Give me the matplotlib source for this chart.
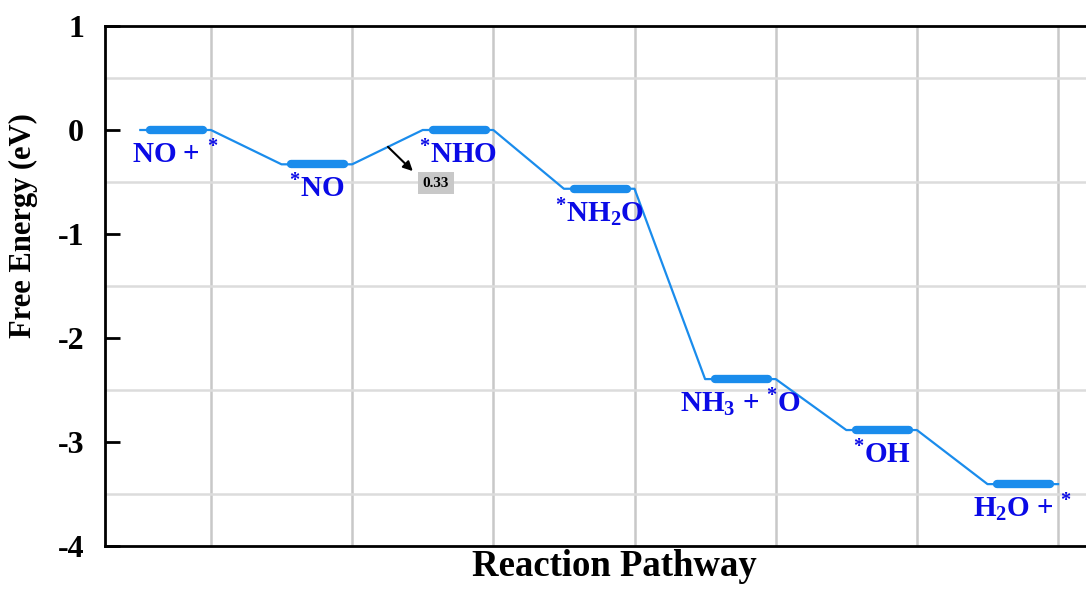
import numpy as np
import matplotlib.pyplot as plt

plt.rcParams['font.family'] = ['Liberation Serif', 'DejaVu Serif']
plt.rcParams['font.weight'] = 'bold'
plt.rcParams['axes.labelweight'] = 'bold'
plt.rcParams['axes.unicode_minus'] = False
plt.rcParams['mathtext.default'] = 'regular'
plt.rcParams['mathtext.fontset'] = 'custom'
plt.rcParams['mathtext.rm'] = 'Liberation Serif'

# intermediates along the pathway and their free energies (eV)
species = [r'NO + $^{\mathrm{*}}$', r'$^{\mathrm{*}}$NO', r'$^{\mathrm{*}}$NHO',
           r'$^{\mathrm{*}}$NH$_2$O', r'NH$_3$ + $^{\mathrm{*}}$O',
           r'$^{\mathrm{*}}$OH', r'H$_2$O + $^{\mathrm{*}}$']
energy = [0.00, -0.33, 0.00, -0.565, -2.395, -2.885, -3.405]
yticks = [1, 0, -1, -2, -3, -4]

line_c = '#1a8cec'
text_c = '#0a0ae6'

step = np.arange(1, len(energy) + 1)
E = np.array(energy)

fig = plt.figure(figsize=(10.86, 5.92), dpi=100)
ax = fig.add_axes([105 / 1086, 46 / 592, 1018 / 1086, 520 / 592])

# thin connecting path: each state is flat between i-0.5 and i
px = np.column_stack([step - 0.5, step]).ravel()
py = np.repeat(E, 2)
ax.plot(px, py, color=line_c, lw=1.6, zorder=3)

# thick level bars
for i, e in zip(step, E):
    ax.plot([i - 0.43, i - 0.055], [e, e], color=line_c, lw=6,
            solid_capstyle='round', zorder=4)

for i, e, s in zip(step, E, species):
    ax.text(i - 0.25, e - 0.32, s, color=text_c, fontsize=21,
            ha='center', va='baseline', zorder=5)

# barrier between *NO and *NHO
barrier = E[2] - E[1]
ax.annotate('', xy=(2.43, -0.395), xytext=(2.254, -0.162),
            arrowprops=dict(arrowstyle='-|>', color='k', lw=1.5,
                            shrinkA=0, shrinkB=0, mutation_scale=14))
ax.text(2.594, -0.51, f'{barrier:.2f}', ha='center', va='center',
        fontsize=11, color='k',
        bbox=dict(boxstyle='square,pad=0.3', fc='#c8c8c8', ec='none'))

ax.set_xlim(0.25, 0.25 + 1018 / 141.2)
ax.set_ylim(-4, 1)
ax.set_xticks(step)
ax.set_yticks(yticks)
ax.set_yticks(np.arange(-3.5, 1, 1.0), minor=True)
ax.tick_params(axis='x', length=0, labelbottom=False)
ax.tick_params(axis='y', which='major', direction='in', length=11, width=2,
               labelsize=23, pad=15)
ax.tick_params(axis='y', which='minor', length=0)
ax.set_axisbelow(True)
ax.grid(axis='x', which='major', color='#c8c8c8', lw=1.8)
ax.grid(axis='y', which='minor', color='#dcdcdc', lw=1.8)
for sp in ax.spines.values():
    sp.set_linewidth(2)

ax.set_xlabel('Reaction Pathway', fontsize=26.5, labelpad=2)
ax.set_ylabel('Free Energy (eV)', fontsize=22)
ax.yaxis.set_label_coords(-0.066, 0.617)

fig.savefig('out.png', dpi=100)
